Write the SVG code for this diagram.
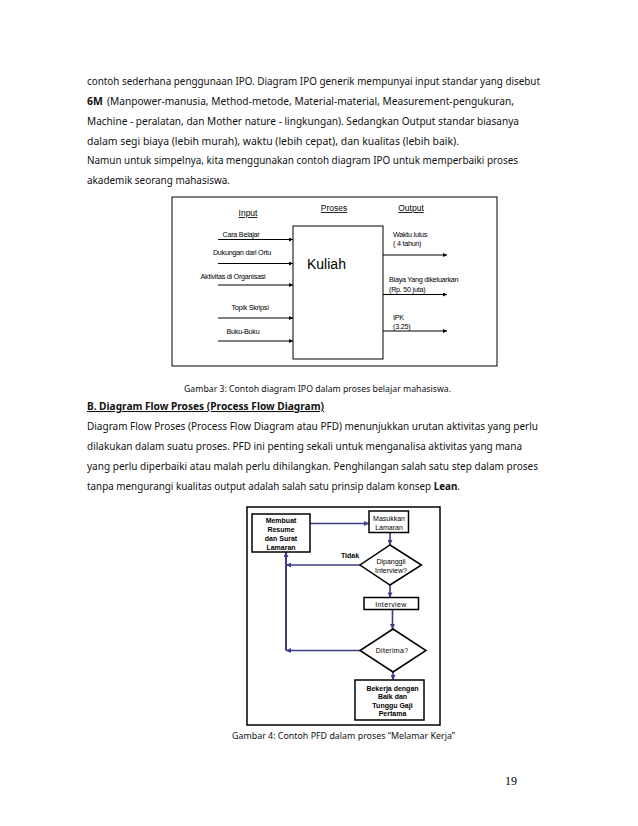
<svg xmlns="http://www.w3.org/2000/svg" width="638" height="826" viewBox="0 0 638 826">
<defs>
<style>
.body{font-family:"Noto Sans","DejaVu Sans",sans-serif;font-size:10.5px;fill:#111}
.b{font-weight:bold}
.cap{font-family:"Noto Sans","DejaVu Sans",sans-serif;font-size:9.5px;fill:#111}
.ipo{font-family:"Liberation Sans",Arial,sans-serif;font-size:7.2px;letter-spacing:-0.25px;fill:#000}
.hd{font-family:"Liberation Sans",Arial,sans-serif;font-size:8.5px;text-decoration:underline;fill:#000}
.fc{font-family:"Liberation Sans",Arial,sans-serif;font-size:7px;fill:#000;text-anchor:middle}
.fcb{font-family:"Liberation Sans",Arial,sans-serif;font-size:7px;font-weight:bold;fill:#000;text-anchor:middle}
.box{fill:#fff;stroke:#000;stroke-width:1}
.fbox{fill:#fff;stroke:#000;stroke-width:1.5}
.ia{stroke:#000;stroke-width:1;fill:none}
.fa{stroke:#3c3c88;stroke-width:1.6;fill:none}
</style>
<marker id="ah" viewBox="0 0 10 10" refX="10" refY="5" markerWidth="5" markerHeight="4" markerUnits="userSpaceOnUse" orient="auto"><path d="M0,0 L10,5 L0,10 z" fill="#000"/></marker>
<marker id="fh" viewBox="0 0 10 10" refX="10" refY="5" markerWidth="6" markerHeight="5" markerUnits="userSpaceOnUse" orient="auto"><path d="M0,0 L10,5 L0,10 z" fill="#3c3c88"/></marker>
</defs>
<rect width="638" height="826" fill="#fff"/>

<g id="para1">
<text class="body" x="87" y="85" textLength="453" lengthAdjust="spacingAndGlyphs">contoh sederhana penggunaan IPO. Diagram IPO generik mempunyai input standar yang disebut</text>
<text class="body b" x="87" y="105">6M</text>
<text class="body" x="107" y="105" textLength="407" lengthAdjust="spacingAndGlyphs">(Manpower-manusia, Method-metode, Material-material, Measurement-pengukuran,</text>
<text class="body" x="87" y="125" textLength="432" lengthAdjust="spacingAndGlyphs">Machine - peralatan, dan Mother nature - lingkungan). Sedangkan Output standar biasanya</text>
<text class="body" x="87" y="145" textLength="372" lengthAdjust="spacingAndGlyphs">dalam segi biaya (lebih murah), waktu (lebih cepat), dan kualitas (lebih baik).</text>
<text class="body" x="87" y="164" textLength="431" lengthAdjust="spacingAndGlyphs">Namun untuk simpelnya, kita menggunakan contoh diagram IPO untuk memperbaiki proses</text>
<text class="body" x="87" y="184" textLength="143" lengthAdjust="spacingAndGlyphs">akademik seorang mahasiswa.</text>
</g>

<g id="ipo-frame"><rect class="box" x="172" y="197" width="325" height="169"/></g>
<g id="ipo-headers">
<text class="hd" x="248" y="216" text-anchor="middle">Input</text>
<text class="hd" x="334" y="211" text-anchor="middle">Proses</text>
<text class="hd" x="411" y="211" text-anchor="middle">Output</text>
</g>
<g id="kuliah">
<rect class="box" x="293" y="226" width="90" height="133"/>
<text x="307" y="269" style="font-family:'Liberation Sans',Arial,sans-serif;font-size:14px;fill:#000">Kuliah</text>
</g>
<g id="ipo-connectors">
<line class="ia" x1="218" y1="239.5" x2="293" y2="239.5" marker-end="url(#ah)"/>
<line class="ia" x1="218" y1="263.5" x2="293" y2="263.5" marker-end="url(#ah)"/>
<line class="ia" x1="218" y1="285" x2="293" y2="285" marker-end="url(#ah)"/>
<line class="ia" x1="218" y1="318" x2="293" y2="318" marker-end="url(#ah)"/>
<line class="ia" x1="218" y1="341" x2="293" y2="341" marker-end="url(#ah)"/>
<line class="ia" x1="383" y1="255" x2="447" y2="255" marker-end="url(#ah)"/>
<line class="ia" x1="383" y1="294.5" x2="447" y2="294.5" marker-end="url(#ah)"/>
<line class="ia" x1="383" y1="331" x2="447" y2="331" marker-end="url(#ah)"/>
</g>
<g id="ipo-inputs">
<text class="ipo" x="241" y="237" text-anchor="middle">Cara Belajar</text>
<text class="ipo" x="242" y="254.5" text-anchor="middle">Dukungan dari Ortu</text>
<text class="ipo" x="233" y="279" text-anchor="middle">Aktivitas di Organisasi</text>
<text class="ipo" x="250" y="309.5" text-anchor="middle">Topik Skripsi</text>
<text class="ipo" x="243" y="334" text-anchor="middle">Buku-Buku</text>
</g>
<g id="ipo-outputs">
<text class="ipo" x="393" y="237">Waktu lulus</text>
<text class="ipo" x="393" y="246">( 4 tahun)</text>
<text class="ipo" x="389" y="282">Biaya Yang dikeluarkan</text>
<text class="ipo" x="389" y="292">(Rp. 50 juta)</text>
<text class="ipo" x="393" y="319.5">IPK</text>
<text class="ipo" x="393" y="328.5">(3.25)</text>
</g>

<g id="caption3"><text class="cap" x="184" y="392" textLength="267" lengthAdjust="spacingAndGlyphs">Gambar 3: Contoh diagram IPO dalam proses belajar mahasiswa.</text></g>

<g id="para2">
<text class="body b" x="87" y="410" textLength="237" lengthAdjust="spacingAndGlyphs" text-decoration="underline">B. Diagram Flow Proses (Process Flow Diagram)</text>
<text class="body" x="87" y="430" textLength="451" lengthAdjust="spacingAndGlyphs">Diagram Flow Proses (Process Flow Diagram atau PFD) menunjukkan urutan aktivitas yang perlu</text>
<text class="body" x="87" y="450" textLength="435" lengthAdjust="spacingAndGlyphs">dilakukan dalam suatu proses. PFD ini penting sekali untuk menganalisa aktivitas yang mana</text>
<text class="body" x="87" y="470" textLength="451" lengthAdjust="spacingAndGlyphs">yang perlu diperbaiki atau malah perlu dihilangkan. Penghilangan salah satu step dalam proses</text>
<text class="body" x="87" y="490" textLength="373" lengthAdjust="spacingAndGlyphs">tanpa mengurangi kualitas output adalah salah satu prinsip dalam konsep <tspan class="b">Lean</tspan>.</text>
</g>

<g id="pfd-frame"><rect class="fbox" x="247" y="507" width="193" height="218"/></g>
<g id="pfd-connectors">
<path class="fa" d="M310,523.5 H369" marker-end="url(#fh)"/>
<path class="fa" d="M390,532.5 V545" marker-end="url(#fh)"/>
<path class="fa" d="M360,565 H286" marker-end="url(#fh)"/>
<path class="fa" d="M390,585 V597.5" marker-end="url(#fh)"/>
<path class="fa" d="M392.5,609.5 V629" marker-end="url(#fh)"/>
<path class="fa" d="M360,650.5 H286" marker-end="url(#fh)"/>
<path class="fa" d="M286,650.5 V552" marker-end="url(#fh)" style="stroke-width:2"/>
<path class="fa" d="M393,672 V680" marker-end="url(#fh)"/>
<text class="fcb" x="350" y="558">Tidak</text>
</g>
<g id="membuat">
<rect class="fbox" x="252" y="514" width="58" height="38"/>
<text class="fcb" x="281" y="523">Membuat</text>
<text class="fcb" x="281" y="532">Resume</text>
<text class="fcb" x="281" y="541">dan Surat</text>
<text class="fcb" x="281" y="549.5">Lamaran</text>
</g>
<g id="masukkan">
<rect class="fbox" x="369" y="511" width="39.5" height="21.5"/>
<text class="fc" x="389" y="521">Masukkan</text>
<text class="fc" x="389" y="530">Lamaran</text>
</g>
<g id="dipanggil">
<polygon class="fbox" points="390,545 421.5,565 390,585 360,565"/>
<text class="fc" x="391" y="564">Dipanggil</text>
<text class="fc" x="391" y="572.5">Interview?</text>
</g>
<g id="interview">
<rect class="fbox" x="364" y="597.5" width="54.5" height="12"/>
<text class="fc" x="391" y="606.5" letter-spacing="0.4">Interview</text>
</g>
<g id="diterima">
<polygon class="fbox" points="393,629 426,650.5 393,672 360,650.5"/>
<text class="fc" x="392" y="653" letter-spacing="0.3">Diterima?</text>
</g>
<g id="bekerja">
<rect class="fbox" x="355" y="680" width="69" height="40"/>
<text class="fcb" x="392.5" y="691">Bekerja dengan</text>
<text class="fcb" x="392.5" y="699">Baik dan</text>
<text class="fcb" x="392.5" y="708">Tunggu Gaji</text>
<text class="fcb" x="392.5" y="716">Pertama</text>
</g>

<g id="caption4"><text class="cap" x="232" y="739" textLength="223" lengthAdjust="spacingAndGlyphs">Gambar 4: Contoh  PFD dalam proses “Melamar Kerja”</text></g>
<g id="pagenum"><text x="505" y="785" style="font-family:'Liberation Serif','Times New Roman',serif;font-size:12px;fill:#000">19</text></g>
</svg>
